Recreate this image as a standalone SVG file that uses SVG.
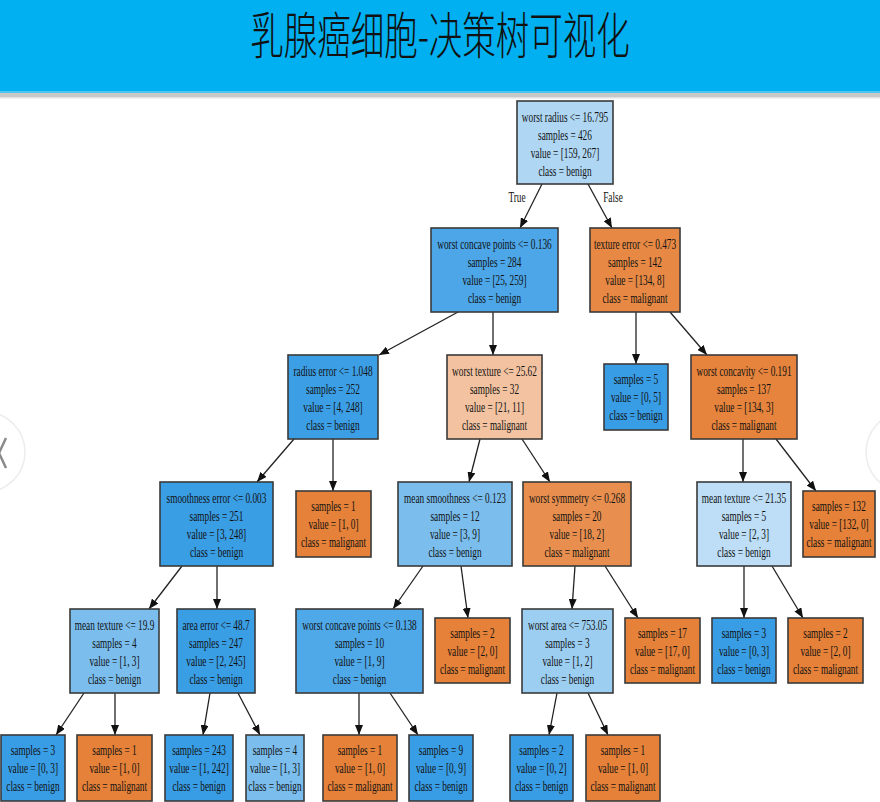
<svg xmlns="http://www.w3.org/2000/svg" width="880" height="802" viewBox="0 0 880 802">
<defs>
<marker id="ah" markerUnits="userSpaceOnUse" markerWidth="11" markerHeight="8" refX="10" refY="4" orient="auto">
<path d="M0,0 L10,4 L0,8 z" fill="#111"/>
</marker>
<style>
.nd rect{stroke:#3a3a3a;stroke-width:1.6}
.nd text, .el{font-family:"Liberation Serif","Times New Roman",serif;font-size:15px;fill:#111;text-anchor:middle}
.ben{fill:#399de5}.mal{fill:#e58139}
#edges line{stroke:#222;stroke-width:1.3;marker-end:url(#ah)}
.title{font-family:"Noto Sans CJK SC","Noto Sans",sans-serif;font-size:50px;font-weight:300;fill:#111;text-anchor:middle}
</style>
</defs>
<rect x="0" y="0" width="880" height="802" fill="#fff"/>
<g id="header">
<rect x="0" y="0" width="880" height="93" fill="#00b0f0"/>
<rect x="0" y="91" width="880" height="2" fill="#4cc4f2"/>
<rect x="0" y="93" width="880" height="4" fill="#c8c8c8"/>
<rect x="0" y="97" width="880" height="1.5" fill="#e2e2e2"/>
<text class="title" transform="translate(440 54) scale(0.67 1)" x="0" y="0">乳腺癌细胞-决策树可视化</text>
</g>
<g id="nav">
<circle cx="-15" cy="452" r="40" fill="none" stroke="#ececec" stroke-width="1.5"/>
<polyline points="6,438 -1,453 6,468" fill="none" stroke="#8a8a8a" stroke-width="2.5"/>
<circle cx="906" cy="452" r="40" fill="none" stroke="#ececec" stroke-width="1.5"/>
</g>
<g id="edges">
<line x1="542" y1="184" x2="520" y2="228"/>
<line x1="588" y1="184" x2="612" y2="228"/>
<line x1="458" y1="312" x2="379" y2="355"/>
<line x1="493" y1="312" x2="493" y2="355"/>
<line x1="636" y1="312" x2="636" y2="364"/>
<line x1="670" y1="312" x2="707" y2="355"/>
<line x1="294" y1="439" x2="257" y2="482"/>
<line x1="333" y1="439" x2="333" y2="491"/>
<line x1="480" y1="439" x2="469" y2="482"/>
<line x1="522" y1="439" x2="550" y2="482"/>
<line x1="743" y1="439" x2="743" y2="482"/>
<line x1="776" y1="439" x2="816" y2="491"/>
<line x1="182" y1="566" x2="149" y2="609"/>
<line x1="217" y1="566" x2="217" y2="609"/>
<line x1="423" y1="566" x2="393" y2="609"/>
<line x1="461" y1="566" x2="468" y2="618"/>
<line x1="575" y1="566" x2="572" y2="609"/>
<line x1="605" y1="566" x2="638" y2="618"/>
<line x1="744" y1="566" x2="744" y2="618"/>
<line x1="772" y1="566" x2="803" y2="618"/>
<line x1="84" y1="693" x2="56" y2="735"/>
<line x1="115" y1="693" x2="115" y2="735"/>
<line x1="210" y1="693" x2="203" y2="735"/>
<line x1="238" y1="693" x2="260" y2="735"/>
<line x1="359" y1="693" x2="359" y2="735"/>
<line x1="390" y1="693" x2="418" y2="735"/>
<line x1="557" y1="693" x2="549" y2="735"/>
<line x1="588" y1="693" x2="608" y2="735"/>
<text class="el" transform="scale(0.62 1)" x="833.9" y="202">True</text>
<text class="el" transform="scale(0.62 1)" x="988.7" y="202">False</text>
</g>
<g id="n0" class="nd"><rect x="517" y="101" width="96" height="83" fill="#afd7f4"/>
<text transform="scale(0.62 1)"><tspan x="911.3" y="122">worst radius &lt;= 16.795</tspan><tspan x="911.3" y="140">samples = 426</tspan><tspan x="911.3" y="158">value = [159, 267]</tspan><tspan x="911.3" y="176">class = benign</tspan></text></g>
<g id="n1" class="nd"><rect x="431" y="228" width="127" height="84" fill="#4ca6e8"/>
<text transform="scale(0.62 1)"><tspan x="797.6" y="249">worst concave points &lt;= 0.136</tspan><tspan x="797.6" y="267">samples = 284</tspan><tspan x="797.6" y="285">value = [25, 259]</tspan><tspan x="797.6" y="303">class = benign</tspan></text></g>
<g id="n2" class="nd"><rect x="590" y="228" width="90" height="84" fill="#e78945"/>
<text transform="scale(0.62 1)"><tspan x="1024.2" y="249">texture error &lt;= 0.473</tspan><tspan x="1024.2" y="267">samples = 142</tspan><tspan x="1024.2" y="285">value = [134, 8]</tspan><tspan x="1024.2" y="303">class = malignant</tspan></text></g>
<g id="n3" class="nd"><rect x="288" y="355" width="90" height="84" fill="#3c9fe5"/>
<text transform="scale(0.62 1)"><tspan x="537.1" y="376">radius error &lt;= 1.048</tspan><tspan x="537.1" y="394">samples = 252</tspan><tspan x="537.1" y="412">value = [4, 248]</tspan><tspan x="537.1" y="430">class = benign</tspan></text></g>
<g id="n4" class="nd"><rect x="447" y="355" width="95" height="84" fill="#f3c3a1"/>
<text transform="scale(0.62 1)"><tspan x="797.6" y="376">worst texture &lt;= 25.62</tspan><tspan x="797.6" y="394">samples = 32</tspan><tspan x="797.6" y="412">value = [21, 11]</tspan><tspan x="797.6" y="430">class = malignant</tspan></text></g>
<g id="n5" class="nd"><rect class="ben" x="604" y="364" width="64" height="66"/>
<text transform="scale(0.62 1)"><tspan x="1025.8" y="384">samples = 5</tspan><tspan x="1025.8" y="402">value = [0, 5]</tspan><tspan x="1025.8" y="420">class = benign</tspan></text></g>
<g id="n6" class="nd"><rect x="691" y="355" width="106" height="84" fill="#e6843d"/>
<text transform="scale(0.62 1)"><tspan x="1200" y="376">worst concavity &lt;= 0.191</tspan><tspan x="1200" y="394">samples = 137</tspan><tspan x="1200" y="412">value = [134, 3]</tspan><tspan x="1200" y="430">class = malignant</tspan></text></g>
<g id="n7" class="nd"><rect x="160" y="482" width="113" height="84" fill="#3a9ee5"/>
<text transform="scale(0.62 1)"><tspan x="349.2" y="503">smoothness error &lt;= 0.003</tspan><tspan x="349.2" y="521">samples = 251</tspan><tspan x="349.2" y="539">value = [3, 248]</tspan><tspan x="349.2" y="557">class = benign</tspan></text></g>
<g id="n8" class="nd"><rect class="mal" x="296" y="491" width="75" height="66"/>
<text transform="scale(0.62 1)"><tspan x="537.9" y="511">samples = 1</tspan><tspan x="537.9" y="529">value = [1, 0]</tspan><tspan x="537.9" y="547">class = malignant</tspan></text></g>
<g id="n9" class="nd"><rect x="398" y="482" width="114" height="84" fill="#7bbeee"/>
<text transform="scale(0.62 1)"><tspan x="733.9" y="503">mean smoothness &lt;= 0.123</tspan><tspan x="733.9" y="521">samples = 12</tspan><tspan x="733.9" y="539">value = [3, 9]</tspan><tspan x="733.9" y="557">class = benign</tspan></text></g>
<g id="n10" class="nd"><rect x="523" y="482" width="108" height="84" fill="#e88f4f"/>
<text transform="scale(0.62 1)"><tspan x="930.6" y="503">worst symmetry &lt;= 0.268</tspan><tspan x="930.6" y="521">samples = 20</tspan><tspan x="930.6" y="539">value = [18, 2]</tspan><tspan x="930.6" y="557">class = malignant</tspan></text></g>
<g id="n11" class="nd"><rect x="697" y="482" width="94" height="84" fill="#bddef6"/>
<text transform="scale(0.62 1)"><tspan x="1200" y="503">mean texture &lt;= 21.35</tspan><tspan x="1200" y="521">samples = 5</tspan><tspan x="1200" y="539">value = [2, 3]</tspan><tspan x="1200" y="557">class = benign</tspan></text></g>
<g id="n12" class="nd"><rect class="mal" x="803" y="491" width="72" height="66"/>
<text transform="scale(0.62 1)"><tspan x="1353.2" y="511">samples = 132</tspan><tspan x="1353.2" y="529">value = [132, 0]</tspan><tspan x="1353.2" y="547">class = malignant</tspan></text></g>
<g id="n13" class="nd"><rect x="70" y="609" width="89" height="84" fill="#7bbeee"/>
<text transform="scale(0.62 1)"><tspan x="184.7" y="630">mean texture &lt;= 19.9</tspan><tspan x="184.7" y="648">samples = 4</tspan><tspan x="184.7" y="666">value = [1, 3]</tspan><tspan x="184.7" y="684">class = benign</tspan></text></g>
<g id="n14" class="nd"><rect x="177" y="609" width="78" height="84" fill="#3a9ee5"/>
<text transform="scale(0.62 1)"><tspan x="348.4" y="630">area error &lt;= 48.7</tspan><tspan x="348.4" y="648">samples = 247</tspan><tspan x="348.4" y="666">value = [2, 245]</tspan><tspan x="348.4" y="684">class = benign</tspan></text></g>
<g id="n15" class="nd"><rect x="296" y="609" width="127" height="84" fill="#4fa8e8"/>
<text transform="scale(0.62 1)"><tspan x="579.8" y="630">worst concave points &lt;= 0.138</tspan><tspan x="579.8" y="648">samples = 10</tspan><tspan x="579.8" y="666">value = [1, 9]</tspan><tspan x="579.8" y="684">class = benign</tspan></text></g>
<g id="n16" class="nd"><rect class="mal" x="435" y="618" width="75" height="65"/>
<text transform="scale(0.62 1)"><tspan x="762.1" y="638">samples = 2</tspan><tspan x="762.1" y="656">value = [2, 0]</tspan><tspan x="762.1" y="674">class = malignant</tspan></text></g>
<g id="n17" class="nd"><rect x="522" y="609" width="91" height="84" fill="#9ccef2"/>
<text transform="scale(0.62 1)"><tspan x="915.3" y="630">worst area &lt;= 753.05</tspan><tspan x="915.3" y="648">samples = 3</tspan><tspan x="915.3" y="666">value = [1, 2]</tspan><tspan x="915.3" y="684">class = benign</tspan></text></g>
<g id="n18" class="nd"><rect class="mal" x="625" y="618" width="75" height="65"/>
<text transform="scale(0.62 1)"><tspan x="1068.5" y="638">samples = 17</tspan><tspan x="1068.5" y="656">value = [17, 0]</tspan><tspan x="1068.5" y="674">class = malignant</tspan></text></g>
<g id="n19" class="nd"><rect class="ben" x="712" y="618" width="64" height="65"/>
<text transform="scale(0.62 1)"><tspan x="1200" y="638">samples = 3</tspan><tspan x="1200" y="656">value = [0, 3]</tspan><tspan x="1200" y="674">class = benign</tspan></text></g>
<g id="n20" class="nd"><rect class="mal" x="788" y="618" width="75" height="65"/>
<text transform="scale(0.62 1)"><tspan x="1331.5" y="638">samples = 2</tspan><tspan x="1331.5" y="656">value = [2, 0]</tspan><tspan x="1331.5" y="674">class = malignant</tspan></text></g>
<g id="n21" class="nd"><rect class="ben" x="1" y="735" width="64" height="66"/>
<text transform="scale(0.62 1)"><tspan x="53.2" y="755">samples = 3</tspan><tspan x="53.2" y="773">value = [0, 3]</tspan><tspan x="53.2" y="791">class = benign</tspan></text></g>
<g id="n22" class="nd"><rect class="mal" x="77" y="735" width="75" height="66"/>
<text transform="scale(0.62 1)"><tspan x="184.7" y="755">samples = 1</tspan><tspan x="184.7" y="773">value = [1, 0]</tspan><tspan x="184.7" y="791">class = malignant</tspan></text></g>
<g id="n23" class="nd"><rect class="ben" x="165" y="735" width="68" height="66"/>
<text transform="scale(0.62 1)"><tspan x="321" y="755">samples = 243</tspan><tspan x="321" y="773">value = [1, 242]</tspan><tspan x="321" y="791">class = benign</tspan></text></g>
<g id="n24" class="nd"><rect x="246" y="735" width="58" height="66" fill="#7bbeee"/>
<text transform="scale(0.62 1)"><tspan x="443.5" y="755">samples = 4</tspan><tspan x="443.5" y="773">value = [1, 3]</tspan><tspan x="443.5" y="791">class = benign</tspan></text></g>
<g id="n25" class="nd"><rect class="mal" x="323" y="735" width="74" height="66"/>
<text transform="scale(0.62 1)"><tspan x="580.6" y="755">samples = 1</tspan><tspan x="580.6" y="773">value = [1, 0]</tspan><tspan x="580.6" y="791">class = malignant</tspan></text></g>
<g id="n26" class="nd"><rect class="ben" x="409" y="735" width="64" height="66"/>
<text transform="scale(0.62 1)"><tspan x="711.3" y="755">samples = 9</tspan><tspan x="711.3" y="773">value = [0, 9]</tspan><tspan x="711.3" y="791">class = benign</tspan></text></g>
<g id="n27" class="nd"><rect class="ben" x="510" y="735" width="63" height="66"/>
<text transform="scale(0.62 1)"><tspan x="873.4" y="755">samples = 2</tspan><tspan x="873.4" y="773">value = [0, 2]</tspan><tspan x="873.4" y="791">class = benign</tspan></text></g>
<g id="n28" class="nd"><rect class="mal" x="586" y="735" width="74" height="66"/>
<text transform="scale(0.62 1)"><tspan x="1004.8" y="755">samples = 1</tspan><tspan x="1004.8" y="773">value = [1, 0]</tspan><tspan x="1004.8" y="791">class = malignant</tspan></text></g>
</svg>
